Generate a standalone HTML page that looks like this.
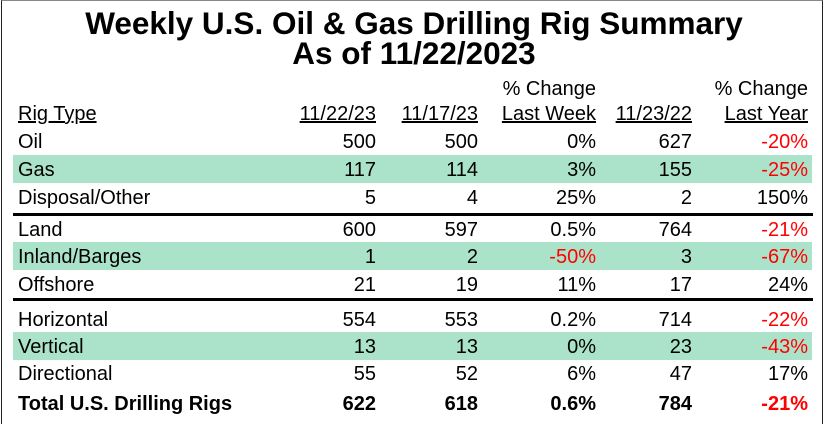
<!DOCTYPE html>
<html><head><meta charset="utf-8"><style>
html,body{margin:0;padding:0;background:#fff}
#wrap{position:relative;width:828px;height:424px;overflow:hidden;font-family:"Liberation Sans",Arial,sans-serif;color:#000}
#frame{position:absolute;left:1px;top:0;width:822px;height:430px;border:1px solid #222;border-top-color:#888;box-sizing:border-box}
.t{position:absolute;left:0;width:828px;text-align:center;font-weight:bold;font-size:31.5px;line-height:30px}
.c{position:absolute;font-size:20px;line-height:22px;white-space:nowrap}
.r{text-align:right}
.u{text-decoration:underline}
.band{position:absolute;left:13px;width:799px;background:#abe3ca}
.rule{position:absolute;left:13px;width:800px;height:3px;background:#000}
.neg{color:#f00}
</style></head><body>
<div id="wrap">
<div id="frame"></div>
<div class="t" style="top:8px">Weekly U.S. Oil &amp; Gas Drilling Rig Summary</div>
<div class="t" style="top:38px">As of 11/22/2023</div>
</div>
<script>
const rigTypes=["Oil","Gas","Disposal/Other","Land","Inland/Barges","Offshore","Horizontal","Vertical","Directional","Total U.S. Drilling Rigs"];
const cur=[500,117,5,600,1,21,554,13,55,622];
const prev=[500,114,4,597,2,19,553,13,52,618];
const chgWeek=["0%","3%","25%","0.5%","-50%","11%","0.2%","0%","6%","0.6%"];
const lastYear=[627,155,2,764,3,17,714,23,47,784];
const chgYear=["-20%","-25%","150%","-21%","-67%","24%","-22%","-43%","17%","-21%"];
const headers=["11/22/23","11/17/23","% Change|Last Week","11/23/22","% Change|Last Year"];
const W=document.getElementById('wrap');
const rowY=[142,170,198,230,257,285,320,347,374,404];
const colR=[376,478,596,692,808];
function cell(txt,x,y,cls,right){const d=document.createElement('div');d.className='c '+(cls||'');d.textContent=txt;d.style.top=(y-11)+'px';if(right){d.style.right=(828-x)+'px';}else d.style.left=x+'px';W.appendChild(d);return d;}
[1,4,7].forEach(i=>{const b=document.createElement('div');b.className='band';b.style.top=(rowY[i]-15)+'px';b.style.height='28px';


W.appendChild(b);});
[213,298].forEach(y=>{const r=document.createElement('div');r.className='rule';r.style.top=y+'px';


W.appendChild(r);});
let h=cell("Rig Type",18,114,'u');


headers.forEach((t,j)=>{const p=t.split('|');
if(p.length>1){const a=cell(p[0],colR[j],89,'r',true);

}
const b=cell(p[p.length-1],colR[j],114,'r u',true);

});
rigTypes.forEach((n,i)=>{const y=rowY[i];const bold=i===rigTypes.length-1;
const st=bold?'font-weight:bold':'';
const l=cell(n,18,y,'');l.style.cssText+=st;


const vals=[cur[i],prev[i],chgWeek[i],lastYear[i],chgYear[i]];
vals.forEach((v,j)=>{const s=String(v);const d=cell(s,colR[j],y,'r'+(s.startsWith('-')?' neg':''),true);d.style.cssText+=st;

});});
</script>
</body></html>
